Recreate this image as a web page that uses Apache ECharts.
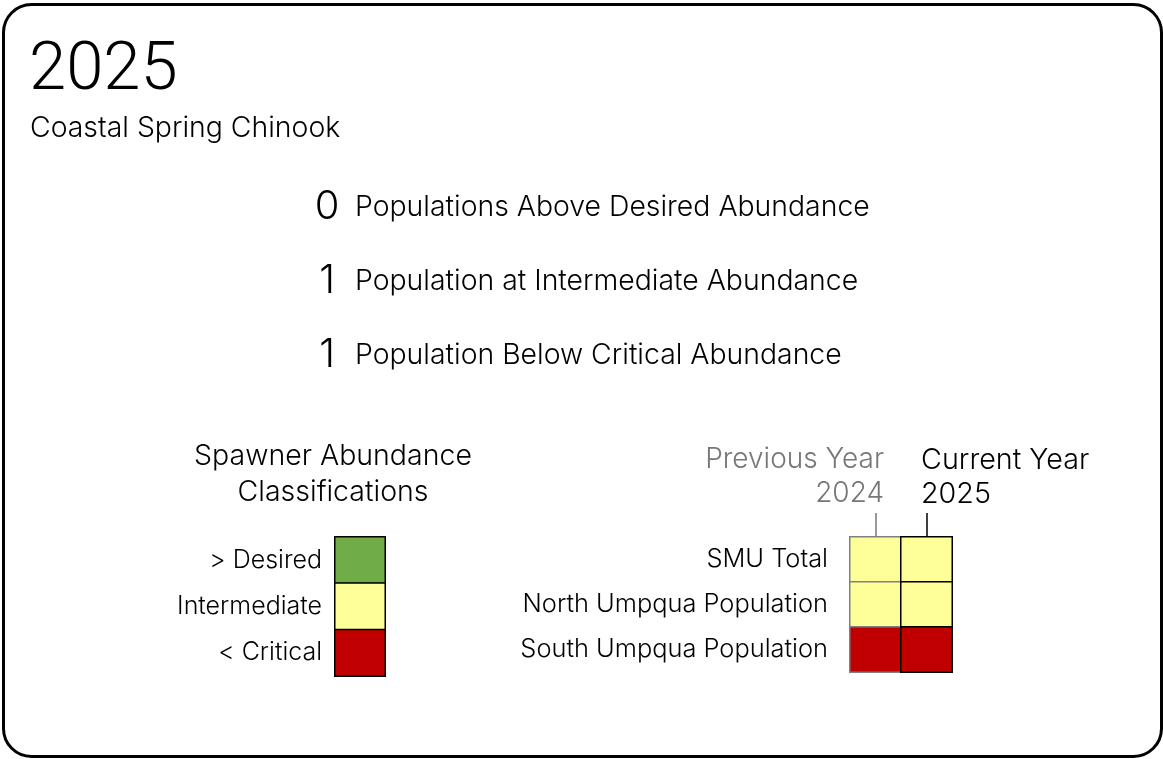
<!DOCTYPE html>
<html>
<head>
<meta charset="utf-8">
<script src="https://cdn.jsdelivr.net/npm/echarts@6/dist/echarts.min.js"></script>
<style>
  html, body { margin: 0; padding: 0; background: #fff; }
  #main { width: 1163px; height: 759px; }
</style>
</head>
<body>
<div id="main"></div>
<script>
var year = '2025';
var smuName = 'Coastal Spring Chinook';

var countValues = [0, 1, 1];
var countLabels = [
  'Populations Above Desired Abundance',
  'Population at Intermediate Abundance',
  'Population Below Critical Abundance'
];

// classes, top to bottom of the legend
var classNames = ['> Desired', 'Intermediate', '< Critical'];
var classColors = ['#70AD47', '#FFFF99', '#C00000'];

var populations = ['SMU Total', 'North Umpqua Population', 'South Umpqua Population'];
var years = ['2024', '2025'];
var prevStatus = ['Intermediate', 'Intermediate', '< Critical'];
var currStatus = ['Intermediate', 'Intermediate', '< Critical'];

var FONT = 'Inter, Roboto, sans-serif';
var W = '300 ';

var chart = echarts.init(document.getElementById('main'), null, { renderer: 'canvas' });

function cells(col, status) {
  return status.map(function (s, i) {
    return [col, i, classNames.indexOf(s)];
  });
}

var legendCells = classNames.map(function (c, i) { return [0, i, i]; });

var graphics = [
  {
    type: 'rect',
    shape: { x: 3.5, y: 4.5, width: 1158, height: 752, r: 28 },
    style: { fill: 'none', stroke: '#000', lineWidth: 3 },
    z: 10
  },
  {
    type: 'text', x: 29, y: 72,
    style: { text: year, font: W + '67px Roboto, sans-serif', fill: '#000', verticalAlign: 'middle' }
  },
  {
    type: 'text', x: 30, y: 128,
    style: { text: smuName, font: W + '28.4px ' + FONT, fill: '#000', verticalAlign: 'middle' }
  },
  {
    type: 'text', x: 333, y: 456,
    style: { text: 'Spawner Abundance', font: W + '28.5px ' + FONT, fill: '#000', align: 'center', verticalAlign: 'middle' }
  },
  {
    type: 'text', x: 333, y: 492,
    style: { text: 'Classifications', font: W + '28.5px ' + FONT, fill: '#000', align: 'center', verticalAlign: 'middle' }
  },
  {
    type: 'text', x: 884, y: 460,
    style: { text: 'Previous Year', font: W + '28px ' + FONT, fill: '#777', align: 'right', verticalAlign: 'middle' }
  },
  {
    type: 'text', x: 884, y: 494,
    style: { text: years[0], font: W + '28px ' + FONT, fill: '#777', align: 'right', verticalAlign: 'middle' }
  },
  {
    type: 'text', x: 921, y: 460,
    style: { text: 'Current Year', font: W + '28.7px ' + FONT, fill: '#000', align: 'left', verticalAlign: 'middle' }
  },
  {
    type: 'text', x: 921, y: 494,
    style: { text: years[1], font: W + '28.7px ' + FONT, fill: '#000', align: 'left', verticalAlign: 'middle' }
  }
];

countValues.forEach(function (v, i) {
  var y = 207 + i * 74;
  graphics.push({
    type: 'text', x: 327, y: y,
    style: { text: String(v), font: W + '40px ' + FONT, fill: '#000', align: 'center', verticalAlign: 'middle' }
  });
  graphics.push({
    type: 'text', x: 355, y: y,
    style: { text: countLabels[i], font: W + '28.4px ' + FONT, fill: '#000', align: 'left', verticalAlign: 'middle' }
  });
});

var option = {
  backgroundColor: '#fff',
  animation: false,
  graphic: graphics,
  grid: [
    { left: 335, top: 537, width: 50, height: 139 },
    { left: 850, top: 537, width: 102, height: 135 }
  ],
  xAxis: [
    {
      gridIndex: 0, type: 'category', data: [''],
      axisLine: { show: false }, axisTick: { show: false }, axisLabel: { show: false }, splitLine: { show: false }
    },
    {
      gridIndex: 1, type: 'category', data: years, position: 'top',
      axisLine: { show: false },
      axisTick: {
        show: true, alignWithLabel: true, length: 24,
        interval: function (idx) { return idx === 0; },
        lineStyle: { color: '#777', width: 1.5 }
      },
      axisLabel: { show: false }, splitLine: { show: false }
    },
    {
      gridIndex: 1, type: 'category', data: years, position: 'top',
      axisLine: { show: false },
      axisTick: {
        show: true, alignWithLabel: true, length: 24,
        interval: function (idx) { return idx === 1; },
        lineStyle: { color: '#000', width: 1.5 }
      },
      axisLabel: { show: false }, splitLine: { show: false }
    }
  ],
  yAxis: [
    {
      gridIndex: 0, type: 'category', data: classNames, inverse: true,
      axisLine: { show: false }, axisTick: { show: false }, splitLine: { show: false },
      axisLabel: { margin: 13, color: '#000', fontSize: 25, fontWeight: 300, fontFamily: FONT }
    },
    {
      gridIndex: 1, type: 'category', data: populations, inverse: true,
      axisLine: { show: false }, axisTick: { show: false }, splitLine: { show: false },
      axisLabel: { margin: 22, color: '#000', fontSize: 25.4, fontWeight: 300, fontFamily: FONT }
    }
  ],
  visualMap: {
    type: 'piecewise', show: false, dimension: 2,
    seriesIndex: [0, 1, 2],
    pieces: classColors.map(function (c, i) { return { value: i, color: c }; })
  },
  series: [
    {
      name: 'legend', type: 'heatmap', xAxisIndex: 0, yAxisIndex: 0,
      data: legendCells,
      itemStyle: { borderColor: '#000', borderWidth: 1.5 }
    },
    {
      name: 'Previous Year', type: 'heatmap', xAxisIndex: 1, yAxisIndex: 1,
      data: cells(0, prevStatus),
      itemStyle: { borderColor: '#808080', borderWidth: 1.5 }
    },
    {
      name: 'Current Year', type: 'heatmap', xAxisIndex: 1, yAxisIndex: 1,
      data: cells(1, currStatus),
      itemStyle: { borderColor: '#000', borderWidth: 1.5 }
    }
  ]
};

chart.setOption(option);
</script>
</body>
</html>
